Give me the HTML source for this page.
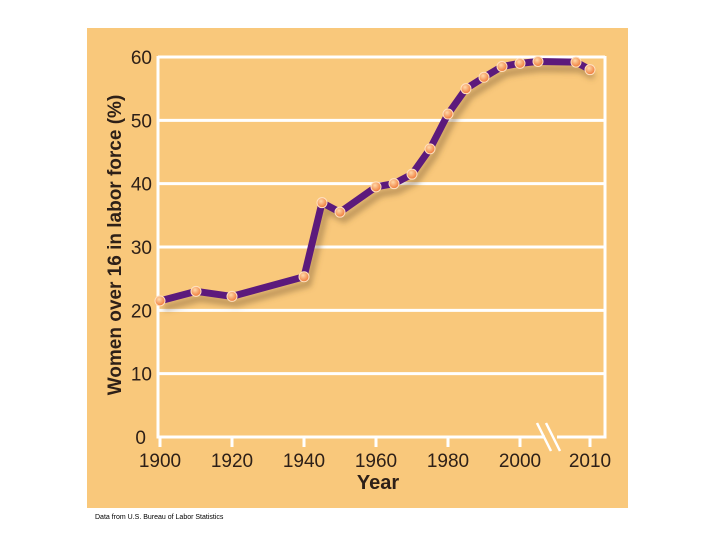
<!DOCTYPE html>
<html><head><meta charset="utf-8"><style>
html,body{margin:0;padding:0;background:#fff;width:720px;height:540px;overflow:hidden}
svg{display:block}
text{font-family:"Liberation Sans",sans-serif;fill:#2e2018}
</style></head><body>
<svg width="720" height="540" viewBox="0 0 720 540">
<defs>
<filter id="sh" x="-10%" y="-10%" width="130%" height="140%"><feGaussianBlur stdDeviation="3"/></filter>
<radialGradient id="dot" cx="40%" cy="35%" r="65%"><stop offset="0" stop-color="#ffd9a8"/><stop offset="1" stop-color="#f07a3a"/></radialGradient>
</defs>
<rect x="87" y="28" width="541" height="480" fill="#f9c87b"/>
<g id="grid"></g>
<g id="ticks"></g>
<g id="series"></g>
<text x="121" y="245" font-size="19" font-weight="bold" text-anchor="middle" transform="rotate(-90 121 245)">Women over 16 in labor force (%)</text>
<text x="378" y="489" font-size="20" font-weight="bold" text-anchor="middle">Year</text>
<text x="95" y="519" font-size="7" fill="#000" style="fill:#000">Data from U.S. Bureau of Labor Statistics</text>
</svg>
<script>
const years=[1900,1910,1920,1940,1945,1950,1960,1965,1970,1975,1980,1985,1990,1995,2000,2005,2009,2010];
const values=[21.5,23,22.2,25.3,37,35.5,39.5,40,41.5,45.5,51,55,56.8,58.5,59,59.3,59.2,58];
const xTicks=[1900,1920,1940,1960,1980,2000,2010];
const yTicks=[0,10,20,30,40,50,60];
const NS="http://www.w3.org/2000/svg";
function xs(y){return y<=2007?160+(y-1900)*3.6:590-(2010-y)*14;}
function ys(v){return 437-v*6.333;}
function mk(tag,attrs,parent){const e=document.createElementNS(NS,tag);for(const k in attrs)e.setAttribute(k,attrs[k]);parent.appendChild(e);return e;}
const g=document.getElementById('grid'),t=document.getElementById('ticks'),s=document.getElementById('series');
yTicks.forEach(v=>{
 if(v>0){const l=mk('line',{x1:158,x2:605,y1:ys(v),y2:ys(v),stroke:'#fff','stroke-width':3},g);
 
 }
 const tx=mk('text',{x:v===0?146:152,y:ys(v)+7,'font-size':19,'text-anchor':'end'},t);tx.textContent=v;
 
 
});
const ax=mk('path',{d:'M158,56 V437 H545 M557,437 H605 V56',fill:'none',stroke:'#fff','stroke-width':3},g);


const br=mk('path',{d:'M537,423 L551,451 M546,423 L560,451',stroke:'#fff','stroke-width':2.5,fill:'none'},g);


xTicks.forEach(y=>{
 const x=xs(y);
 mk('line',{x1:x,x2:x,y1:437,y2:447,stroke:'#fff','stroke-width':3},t);
 const tx=mk('text',{x:x,y:467,'font-size':19,'text-anchor':'middle'},t);tx.textContent=y;
 
 
});
const pts=years.map((y,i)=>xs(y)+','+ys(values[i])).join(' ');
const shp=mk('polyline',{points:pts,fill:'none',stroke:'#7a5a30','stroke-opacity':0.45,'stroke-width':7,transform:'translate(4,7)',filter:'url(#sh)'},s);


const ln=mk('polyline',{points:pts,fill:'none',stroke:'#5c1a7c','stroke-width':7,'stroke-linejoin':'round'},s);


years.forEach((y,i)=>{
 const c=mk('circle',{cx:xs(y),cy:ys(values[i]),r:5,fill:'url(#dot)',stroke:'#ffe0c0','stroke-width':1},s);
 
 
});
</script>
</body></html>
